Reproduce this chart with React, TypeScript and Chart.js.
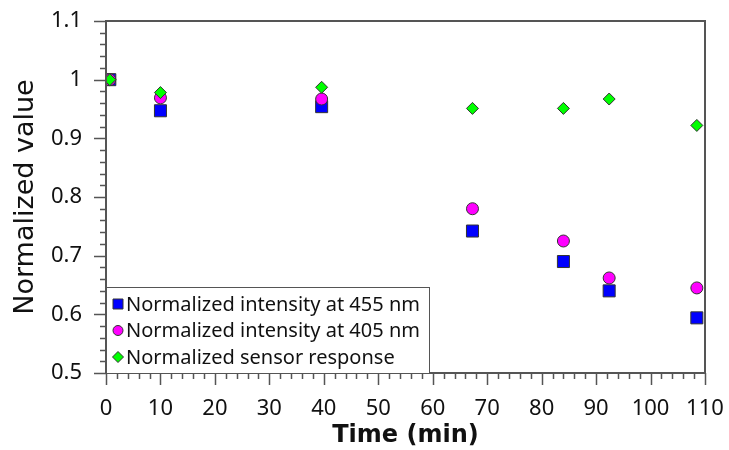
import React, { useEffect, useRef } from "react";
import { Chart, registerables } from "chart.js";

Chart.register(...registerables);

const timeMin = [0.7, 10, 39.6, 67.3, 84, 92.4, 108.5];
const intensity455 = [1.0, 0.947, 0.954, 0.742, 0.69, 0.64, 0.594];
const intensity405 = [1.0, 0.969, 0.967, 0.78, 0.725, 0.662, 0.645];
const sensorResponse = [1.0, 0.978, 0.987, 0.951, 0.951, 0.967, 0.922];
const seriesLabels = [
  "Normalized intensity at 455 nm",
  "Normalized intensity at 405 nm",
  "Normalized sensor response",
];

const FONT = "'Noto Sans', 'Open Sans', sans-serif";
const TITLE_FONT = "'DejaVu Sans', Verdana, sans-serif";

const framePlugin = {
  id: "frameTicks",
  afterDraw(chart: any) {
    const ctx = chart.ctx;
    const { left, right, top, bottom } = chart.chartArea;
    const xs = chart.scales.x;
    const ys = chart.scales.y;
    ctx.save();
    ctx.strokeStyle = "#555";
    ctx.lineWidth = 1.5;
    ctx.beginPath();
    for (let v = 0; v <= 110.001; v += 2) {
      const px = Math.round(xs.getPixelForValue(v)) + 0.5;
      const major = Math.abs(v / 10 - Math.round(v / 10)) < 1e-6;
      ctx.moveTo(px, bottom);
      ctx.lineTo(px, bottom + (major ? 12 : 6));
    }
    for (let i = 0; i <= 30; i++) {
      const v = 0.5 + i * 0.02;
      const py = Math.round(ys.getPixelForValue(v)) + 0.5;
      const major = i % 5 === 0;
      ctx.moveTo(left, py);
      ctx.lineTo(left - (major ? 12 : 6), py);
    }
    ctx.stroke();
    ctx.lineWidth = 2;
    ctx.strokeStyle = "#555";
    ctx.strokeRect(left, top, right - left, bottom - top);

    // legend
    const datasets = chart.data.datasets;
    const boxX = left;
    const boxY = bottom - 86;
    const boxW = 323;
    const boxH = 86;
    ctx.fillStyle = "#fff";
    ctx.fillRect(boxX, boxY, boxW, boxH);
    ctx.lineWidth = 1;
    ctx.strokeStyle = "#555";
    ctx.strokeRect(boxX + 0.5, boxY + 0.5, boxW, boxH);
    ctx.font = `20px ${FONT}`;
    ctx.textBaseline = "middle";
    ctx.textAlign = "left";
    [0, 1, 2].forEach((di, row) => {
      const ds = datasets[di];
      const cy = boxY + 17 + row * 26.5;
      const cx = boxX + 12;
      ctx.fillStyle = ds.backgroundColor;
      ctx.strokeStyle = "#333";
      ctx.lineWidth = 1;
      ctx.beginPath();
      if (ds.pointStyle === "rect") {
        ctx.rect(cx - 5, cy - 5, 10, 10);
      } else if (ds.pointStyle === "circle") {
        ctx.arc(cx, cy, 5, 0, Math.PI * 2);
      } else {
        ctx.moveTo(cx - 5.5, cy);
        ctx.lineTo(cx, cy - 5.5);
        ctx.lineTo(cx + 5.5, cy);
        ctx.lineTo(cx, cy + 5.5);
        ctx.closePath();
      }
      ctx.fill();
      ctx.stroke();
      ctx.fillStyle = "#111";
      ctx.fillText(ds.label, boxX + 20, cy + 1);
    });
    ctx.restore();
  },
};

export default function App() {
  const ref = useRef<HTMLCanvasElement | null>(null);
  useEffect(() => {
    if (!ref.current) return;
    const mk = (arr: number[]) => timeMin.map((t, i) => ({ x: t, y: arr[i] }));
    const chart = new Chart(ref.current, {
      type: "scatter",
      data: {
        datasets: [
          {
            label: seriesLabels[0],
            data: mk(intensity455),
            pointStyle: "rect",
            pointRadius: 8.5,
            backgroundColor: "#0000ff",
            borderColor: "#333",
            borderWidth: 1,
            order: 2,
          },
          {
            label: seriesLabels[1],
            data: mk(intensity405),
            pointStyle: "circle",
            pointRadius: 6,
            backgroundColor: "#ff00ff",
            borderColor: "#333",
            borderWidth: 1,
            order: 1,
          },
          {
            label: seriesLabels[2],
            data: mk(sensorResponse),
            pointStyle: "rectRot",
            pointRadius: 6,
            backgroundColor: "#00ff00",
            borderColor: "#333",
            borderWidth: 1,
            order: 0,
          },
        ] as any,
      },
      options: {
        animation: false,
        responsive: false,
        layout: { padding: { top: 21, right: 24, left: 0, bottom: 0 } },
        plugins: {
          legend: { display: false },
          tooltip: { enabled: false },
        },
        scales: {
          x: {
            type: "linear",
            min: 0,
            max: 110,
            grid: { display: false },
            border: { display: false },
            ticks: {
              stepSize: 10,
              padding: 15,
              color: "#111",
              font: { family: FONT, size: 22 },
              maxRotation: 0,
            },
            title: {
              display: true,
              text: "Time (min)",
              color: "#111",
              font: { family: TITLE_FONT, size: 24, weight: "bold" },
              padding: { top: 3, bottom: 0 },
            },
            afterFit: (s: any) => {
              s.height = 77;
              s.paddingLeft = 0;
              s.paddingRight = 0;
            },
          },
          y: {
            type: "linear",
            min: 0.5,
            max: 1.1,
            grid: { display: false },
            border: { display: false },
            ticks: {
              stepSize: 0.1,
              padding: 16,
              color: "#111",
              font: { family: FONT, size: 22 },
              callback: (v: any) => String(Math.round(Number(v) * 10) / 10),
            },
            title: {
              display: true,
              text: "Normalized value",
              color: "#111",
              font: { family: TITLE_FONT, size: 27 },
              padding: { top: 10, bottom: 4 },
            },
            afterFit: (s: any) => {
              s.width = 106;
              s.paddingTop = 0;
              s.paddingBottom = 0;
            },
          },
        },
      },
      plugins: [framePlugin],
    });
    return () => chart.destroy();
  }, []);
  return (
    <div style={{ position: "absolute", left: 0, top: 0, width: 729, height: 450, background: "#fff" }}>
      <canvas ref={ref} width={729} height={450} style={{ display: "block" }} />
    </div>
  );
}
